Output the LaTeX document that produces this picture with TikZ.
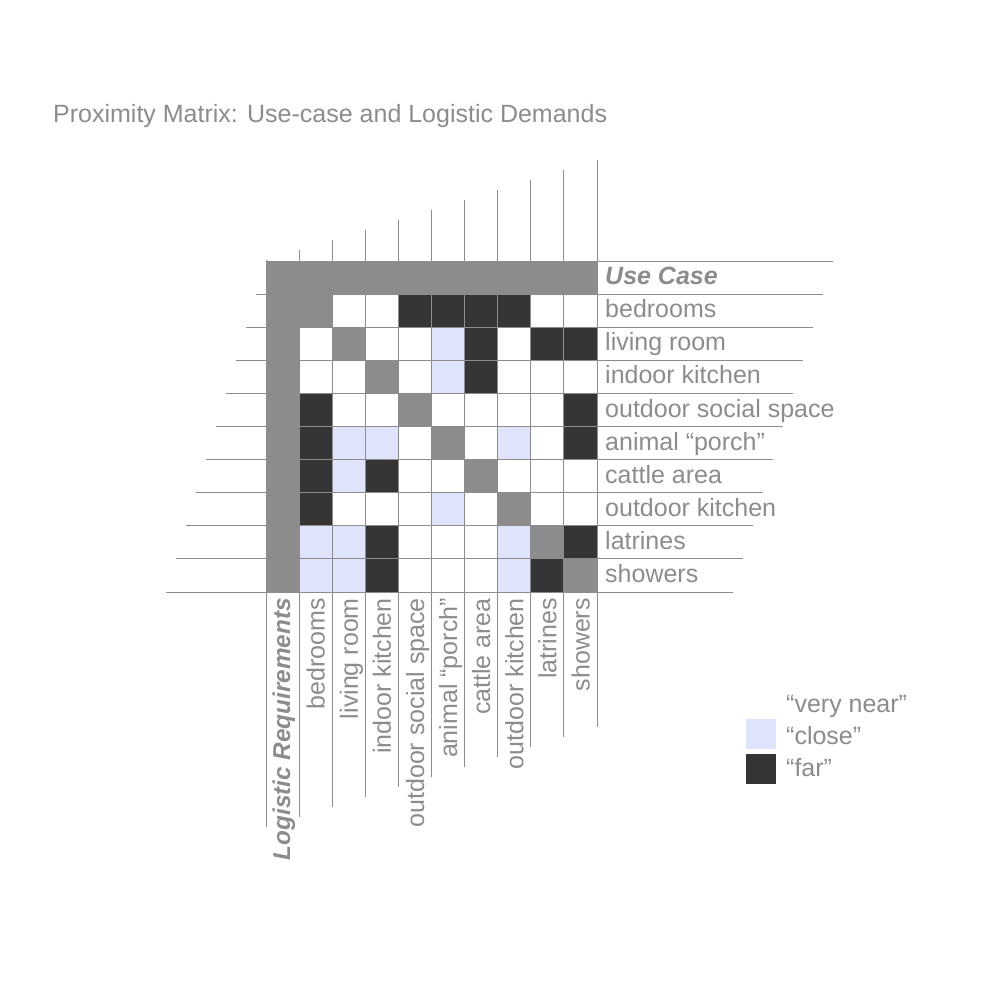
\documentclass[tikz,border=0pt]{standalone}
\usepackage{fontspec}
\setmainfont{Liberation Sans}
\usepackage{tikz}
\usetikzlibrary{positioning, calc}
\definecolor{bandgray}{HTML}{8C8C8C}
\definecolor{fardark}{HTML}{353535}
\definecolor{closeblue}{HTML}{E0E3FC}

\begin{document}
\begin{tikzpicture}[x=1pt, y=-1pt,
		every node/.style={text=bandgray, inner sep=0pt, font=\fontsize{25}{28}\selectfont},
		gridline/.style={bandgray, line width=1pt},
		rowname/.style={anchor=base west},
		colname/.style={anchor=base east, rotate=90},
		headname/.style={font=\fontsize{25}{28}\selectfont\bfseries\itshape}]
		\useasboundingbox (0,0) rectangle (1000,1000);
		\pgfmathsetmacro{\cs}{33.1}
		\pgfmathsetmacro{\ox}{266}
		\pgfmathsetmacro{\oy}{261}
		
		\node[rowname] (title) at (53,123) {Proximity Matrix: Use-case and Logistic Demands};
		
		%% band and diagonal
		\fill[bandgray] (\ox,\oy) rectangle ++(10*\cs,\cs);
		\fill[bandgray] (\ox,\oy) rectangle ++(\cs,10*\cs);
		\foreach \i in {1,...,9} \fill[bandgray] (\ox+\i*\cs,\oy+\i*\cs) rectangle ++(\cs,\cs);
		
		%% "close" and "far" cells
		\foreach \c/\r in {5/2,5/3,2/5,3/5,7/5,2/6,5/7,1/8,2/8,7/8,1/9,2/9,7/9}
			\fill[closeblue] (\ox+\c*\cs,\oy+\r*\cs) rectangle ++(\cs,\cs);
		\foreach \c/\r in {4/1,5/1,6/1,7/1,6/2,8/2,9/2,6/3,1/4,9/4,1/5,9/5,1/6,3/6,1/7,3/8,9/8,3/9,8/9}
			\fill[fardark] (\ox+\c*\cs,\oy+\r*\cs) rectangle ++(\cs,\cs);
		
		%% grid lines running out in steps
		\foreach \k in {0,...,10} {
			\draw[gridline] (\ox-10*\k,\oy+\k*\cs) -- (833-10*\k,\oy+\k*\cs);
			\draw[gridline] (\ox+\k*\cs,\oy-1-10*\k) -- (\ox+\k*\cs,827-10*\k);
		}
		
		%% use case rows
		\node[rowname, headname] (usecase) at (605,\oy+\cs-9.5) {Use Case};
		\foreach \k/\txt in {1/bedrooms,2/living room,3/indoor kitchen,4/outdoor social space,5/animal “porch”,6/cattle area,7/outdoor kitchen,8/latrines,9/showers}
			\node[rowname] (row\k) at (605,\oy+\k*\cs+\cs-9.5) {\txt};
		
		%% logistic columns
		\node[colname, headname, font=\fontsize{24.3}{28}\selectfont\bfseries\itshape] (logistic) at (\ox+\cs-9,598) {Logistic Requirements};
		\foreach \k/\txt in {1/bedrooms,2/living room,3/indoor kitchen,4/outdoor social space,5/animal “porch”,6/cattle area,7/outdoor kitchen,8/latrines,9/showers}
			\node[colname] (col\k) at (\ox+\k*\cs+\cs-7.5,598) {\txt};
		
		%% legend
		\fill[closeblue] (746,719) rectangle (776,749);
		\fill[fardark] (746,754) rectangle (776,784);
		\node[rowname] (verynear) at (786,712) {“very near”};
		\node[rowname] (close) at (786,744) {“close”};
		\node[rowname] (far) at (786,776) {“far”};
\end{tikzpicture}
\end{document}
